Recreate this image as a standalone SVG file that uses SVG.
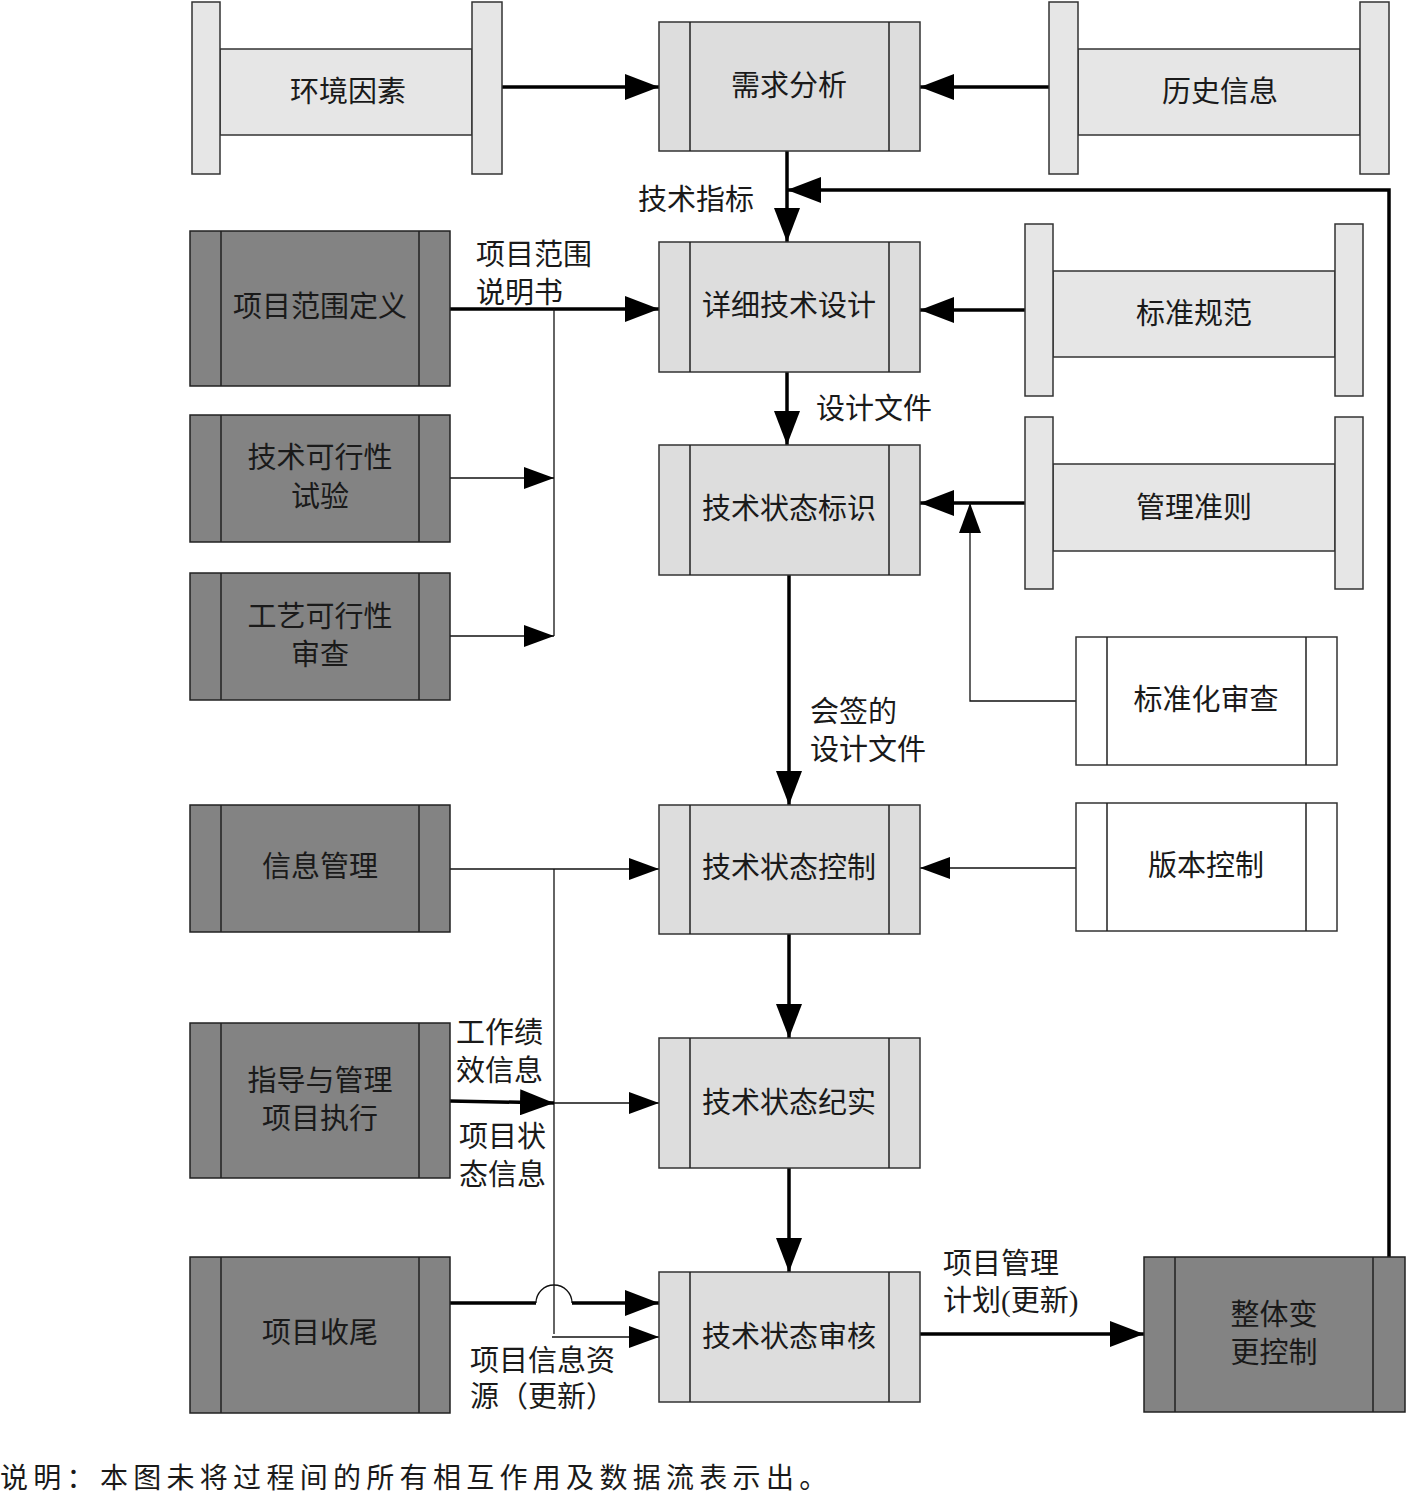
<svg xmlns="http://www.w3.org/2000/svg" width="1406" height="1494" viewBox="0 0 1406 1494">
<style>
.t{font-family:"Liberation Serif","Noto Sans CJK SC",serif;font-size:29px;fill:#1a1a1a;text-anchor:middle}
.l{font-family:"Liberation Serif","Noto Sans CJK SC",serif;font-size:29px;fill:#1a1a1a}
.lt{fill:#dddddd;stroke:#333;stroke-width:1.5}
.bar{fill:#e6e6e6;stroke:#333;stroke-width:1.5}
.dk{fill:#838383;stroke:#222;stroke-width:1.5}
.wh{fill:#ffffff;stroke:#333;stroke-width:1.5}
.in{stroke:#222;stroke-width:1.5;fill:none}
.thick{stroke:#000;stroke-width:3.5;fill:none}
.thin{stroke:#111;stroke-width:1.3;fill:none}
</style>
<defs>
<marker id="ab" markerUnits="userSpaceOnUse" markerWidth="34" markerHeight="26" viewBox="0 0 34 26" refX="34" refY="13" orient="auto"><path d="M0,0 L34,13 L0,26 z" fill="#000"/></marker>
<marker id="as" markerUnits="userSpaceOnUse" markerWidth="30" markerHeight="22" viewBox="0 0 30 22" refX="30" refY="11" orient="auto"><path d="M0,0 L30,11 L0,22 z" fill="#000"/></marker>
</defs>
<rect width="1406" height="1494" fill="#fff"/>

<g id="connectors">
<path class="thick" d="M502,87 L659,87" marker-end="url(#ab)"/>
<path class="thick" d="M1049,87 L920,87" marker-end="url(#ab)"/>
<path class="thick" d="M787,151 L787,242" marker-end="url(#ab)"/>
<path class="thick" d="M1389,1257 L1389,190 L787,190" marker-end="url(#ab)"/>
<path class="thick" d="M450,309 L659,309" marker-end="url(#ab)"/>
<path class="thin" d="M554,309 L554,636"/>
<path class="thin" d="M450,478 L554,478" marker-end="url(#as)"/>
<path class="thin" d="M450,636 L554,636" marker-end="url(#as)"/>
<path class="thick" d="M1025,310 L920,310" marker-end="url(#ab)"/>
<path class="thick" d="M787,372 L787,445" marker-end="url(#ab)"/>
<path class="thick" d="M1025,503 L920,503" marker-end="url(#ab)"/>
<path class="thin" d="M1076,701 L970,701 L970,503" marker-end="url(#as)"/>
<path class="thick" d="M789,575 L789,805" marker-end="url(#ab)"/>
<path class="thin" d="M450,869 L659,869" marker-end="url(#as)"/>
<path class="thin" d="M554,869 L554,1334"/>
<path class="thin" d="M1076,868 L920,868" marker-end="url(#as)"/>
<path class="thick" d="M789,934 L789,1038" marker-end="url(#ab)"/>
<path class="thick" d="M450,1101 L554,1103" marker-end="url(#ab)"/>
<path class="thin" d="M554,1103 L659,1103" marker-end="url(#as)"/>
<path class="thick" d="M789,1168 L789,1272" marker-end="url(#ab)"/>
<path class="thick" d="M450,1303 L536,1303"/>
<path class="thin" d="M536,1303 A18,18 0 0 1 572,1303"/>
<path class="thick" d="M572,1303 L659,1303" marker-end="url(#ab)"/>
<path class="thin" d="M552,1337 L659,1337" marker-end="url(#as)"/>
<path class="thick" d="M920,1334 L1144,1334" marker-end="url(#ab)"/>
</g>

<g id="n-env">
<rect class="bar" x="220" y="49" width="252" height="86"/>
<rect class="bar" x="192" y="2" width="28" height="172"/>
<rect class="bar" x="472" y="2" width="30" height="172"/>
<text class="t" x="348" y="102">环境因素</text>
</g>
<g id="n-req">
<rect class="lt" x="659" y="22" width="261" height="129"/>
<path class="in" d="M690,22 V151 M889,22 V151"/>
<text class="t" x="789" y="96">需求分析</text>
</g>
<g id="n-hist">
<rect class="bar" x="1078" y="49" width="282" height="86"/>
<rect class="bar" x="1049" y="2" width="29" height="172"/>
<rect class="bar" x="1360" y="2" width="29" height="172"/>
<text class="t" x="1220" y="102">历史信息</text>
</g>
<g id="n-scope">
<rect class="dk" x="190" y="231" width="260" height="155"/>
<path class="in" d="M221,231 V386 M419,231 V386"/>
<text class="t" x="320" y="317">项目范围定义</text>
</g>
<g id="n-design">
<rect class="lt" x="659" y="242" width="261" height="130"/>
<path class="in" d="M690,242 V372 M889,242 V372"/>
<text class="t" x="789" y="316">详细技术设计</text>
</g>
<g id="n-std">
<rect class="bar" x="1053" y="271" width="282" height="86"/>
<rect class="bar" x="1025" y="224" width="28" height="172"/>
<rect class="bar" x="1335" y="224" width="28" height="172"/>
<text class="t" x="1194" y="324">标准规范</text>
</g>
<g id="n-techfeas">
<rect class="dk" x="190" y="415" width="260" height="127"/>
<path class="in" d="M221,415 V542 M419,415 V542"/>
<text class="t" x="320" y="468">技术可行性</text>
<text class="t" x="320" y="507">试验</text>
</g>
<g id="n-ident">
<rect class="lt" x="659" y="445" width="261" height="130"/>
<path class="in" d="M690,445 V575 M889,445 V575"/>
<text class="t" x="789" y="519">技术状态标识</text>
</g>
<g id="n-mgmt">
<rect class="bar" x="1053" y="464" width="282" height="87"/>
<rect class="bar" x="1025" y="417" width="28" height="172"/>
<rect class="bar" x="1335" y="417" width="28" height="172"/>
<text class="t" x="1194" y="518">管理准则</text>
</g>
<g id="n-procfeas">
<rect class="dk" x="190" y="573" width="260" height="127"/>
<path class="in" d="M221,573 V700 M419,573 V700"/>
<text class="t" x="320" y="627">工艺可行性</text>
<text class="t" x="320" y="665">审查</text>
</g>
<g id="n-stdrev">
<rect class="wh" x="1076" y="637" width="261" height="128"/>
<path class="in" d="M1107,637 V765 M1306,637 V765"/>
<text class="t" x="1206" y="710">标准化审查</text>
</g>
<g id="n-info">
<rect class="dk" x="190" y="805" width="260" height="127"/>
<path class="in" d="M221,805 V932 M419,805 V932"/>
<text class="t" x="320" y="877">信息管理</text>
</g>
<g id="n-ctrl">
<rect class="lt" x="659" y="805" width="261" height="129"/>
<path class="in" d="M690,805 V934 M889,805 V934"/>
<text class="t" x="789" y="878">技术状态控制</text>
</g>
<g id="n-ver">
<rect class="wh" x="1076" y="803" width="261" height="128"/>
<path class="in" d="M1107,803 V931 M1306,803 V931"/>
<text class="t" x="1206" y="876">版本控制</text>
</g>
<g id="n-exec">
<rect class="dk" x="190" y="1023" width="260" height="155"/>
<path class="in" d="M221,1023 V1178 M419,1023 V1178"/>
<text class="t" x="320" y="1091">指导与管理</text>
<text class="t" x="320" y="1129">项目执行</text>
</g>
<g id="n-acct">
<rect class="lt" x="659" y="1038" width="261" height="130"/>
<path class="in" d="M690,1038 V1168 M889,1038 V1168"/>
<text class="t" x="789" y="1113">技术状态纪实</text>
</g>
<g id="n-close">
<rect class="dk" x="190" y="1257" width="260" height="156"/>
<path class="in" d="M221,1257 V1413 M419,1257 V1413"/>
<text class="t" x="320" y="1343">项目收尾</text>
</g>
<g id="n-audit">
<rect class="lt" x="659" y="1272" width="261" height="130"/>
<path class="in" d="M690,1272 V1402 M889,1272 V1402"/>
<text class="t" x="789" y="1347">技术状态审核</text>
</g>
<g id="n-change">
<rect class="dk" x="1144" y="1257" width="261" height="155"/>
<path class="in" d="M1175,1257 V1412 M1373,1257 V1412"/>
<text class="t" x="1274" y="1325">整体变</text>
<text class="t" x="1274" y="1363">更控制</text>
</g>

<g id="labels">
<text class="l" x="638" y="210">技术指标</text>
<text class="l" x="476" y="265">项目范围</text>
<text class="l" x="476" y="303">说明书</text>
<text class="l" x="816" y="419">设计文件</text>
<text class="l" x="810" y="722">会签的</text>
<text class="l" x="810" y="760">设计文件</text>
<text class="l" x="456" y="1043">工作绩</text>
<text class="l" x="456" y="1081">效信息</text>
<text class="l" x="459" y="1147">项目状</text>
<text class="l" x="459" y="1185">态信息</text>
<text class="l" x="470" y="1371">项目信息资</text>
<text class="l" x="470" y="1407">源（更新）</text>
<text class="l" x="943" y="1274">项目管理</text>
<text class="l" x="943" y="1311">计划(更新)</text>
<text class="l" x="0" y="1488" style="font-size:28px;letter-spacing:5.3px">说明：本图未将过程间的所有相互作用及数据流表示出。</text>
</g>
</svg>
